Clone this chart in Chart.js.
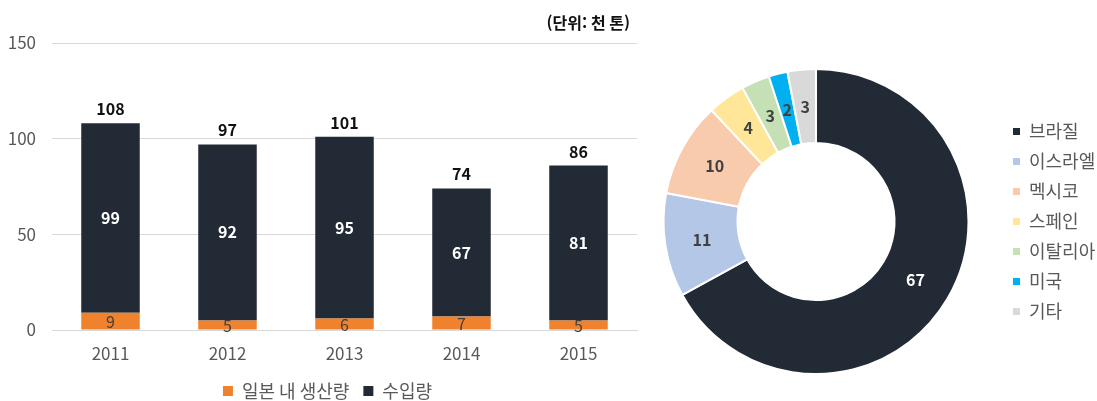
<!DOCTYPE html>
<html lang="ko">
<head>
<meta charset="utf-8">
<script src="https://cdn.jsdelivr.net/npm/chart.js@4.4.1/dist/chart.umd.min.js"></script>
<style>
  body { margin: 0; width: 1097px; height: 401px; overflow: hidden; background: #fff; position: relative; }
  #barWrap { position: absolute; left: 0; top: 0; width: 660px; height: 410px; }
  #pieWrap { position: absolute; left: 620px; top: 0; width: 477px; height: 401px; }
</style>
</head>
<body>
<div id="barWrap"><canvas id="barChart" width="660" height="410"></canvas></div>
<div id="pieWrap"><canvas id="pieChart" width="477" height="401"></canvas></div>
<script>
const FONT = "'Noto Sans CJK KR', 'Noto Sans', sans-serif";
Chart.defaults.font.family = FONT;
Chart.defaults.animation = false;

// 일본 내 생산량 / 수입량 (천 톤)
const years = ["2011", "2012", "2013", "2014", "2015"];
const domestic = [9, 5, 6, 7, 5];
const imports = [99, 92, 95, 67, 81];

// 수입 국가별 비중 (%)
const origins = [
  { name: "브라질", value: 67, color: "#222A35" },
  { name: "이스라엘", value: 11, color: "#B4C7E7" },
  { name: "멕시코", value: 10, color: "#F8CBAD" },
  { name: "스페인", value: 4, color: "#FFE699" },
  { name: "이탈리아", value: 3, color: "#C5E0B4" },
  { name: "미국", value: 2, color: "#00B0F0" },
  { name: "기타", value: 3, color: "#D9D9D9" }
];

const barLabels = {
  id: "barLabels",
  afterLayout(chart) {
    // legend sits a little right of the plot centre in the original
    chart.legend.left += 9;
    chart.legend.right += 9;
  },
  afterDatasetsDraw(chart) {
    const { ctx, chartArea } = chart;
    const low = chart.getDatasetMeta(0).data;
    const high = chart.getDatasetMeta(1).data;
    ctx.save();
    ctx.textAlign = "center";
    ctx.textBaseline = "middle";
    low.forEach((bar, i) => {
      ctx.font = `16px ${FONT}`;
      ctx.fillStyle = "#404040";
      ctx.fillText(domestic[i], bar.x, (bar.y + bar.base) / 2 + 1);

      const top = high[i];
      ctx.font = `bold 16px ${FONT}`;
      ctx.fillStyle = "#ffffff";
      ctx.fillText(imports[i], top.x, (top.y + top.base) / 2);

      ctx.fillStyle = "#111111";
      ctx.fillText(domestic[i] + imports[i], top.x, top.y - 14);
    });
    ctx.textAlign = "right";
    ctx.font = `bold 16px ${FONT}`;
    ctx.fillStyle = "#111111";
    ctx.fillText("(단위: 천 톤)", chartArea.right - 7, 23);
    ctx.restore();
  }
};

new Chart(document.getElementById("barChart").getContext("2d"), {
  type: "bar",
  data: {
    labels: years,
    datasets: [
      { label: "일본 내 생산량", data: domestic, backgroundColor: "#F0822E", borderWidth: 0 },
      { label: "수입량", data: imports, backgroundColor: "#222A35", borderWidth: 0 }
    ]
  },
  options: {
    responsive: false,
    layout: { padding: { left: 0, right: 23, top: 43, bottom: 0 } },
    datasets: { bar: { categoryPercentage: 1, barPercentage: 0.5 } },
    scales: {
      x: {
        stacked: true,
        grid: { display: false, drawTicks: false },
        border: { color: "#D9D9D9" },
        ticks: { color: "#595959", font: { size: 17 }, padding: 13 },
        afterFit(scale) { scale.height = 38; }
      },
      y: {
        stacked: true,
        min: 0, max: 150,
        grid: { color: "#D9D9D9", drawTicks: false },
        border: { display: false },
        ticks: { stepSize: 50, color: "#595959", font: { size: 17 }, padding: 16 },
        afterFit(scale) { scale.width = 52; }
      }
    },
    plugins: {
      legend: {
        position: "bottom",
        labels: { boxWidth: 10, boxHeight: 10, padding: 14, color: "#595959", font: { size: 18 } }
      },
      tooltip: { enabled: false }
    }
  },
  plugins: [barLabels]
});

const pieLabels = {
  id: "pieLabels",
  afterDatasetsDraw(chart) {
    const { ctx } = chart;
    ctx.save();
    ctx.textAlign = "center";
    ctx.textBaseline = "middle";
    ctx.font = `bold 16px ${FONT}`;
    chart.getDatasetMeta(0).data.forEach((arc, i) => {
      const p = arc.getCenterPoint();
      ctx.fillStyle = i === 0 ? "#ffffff" : "#404040";
      ctx.fillText(origins[i].value, p.x, p.y);
    });
    ctx.restore();
  }
};

const baseLabels = Chart.overrides.doughnut.plugins.legend.labels.generateLabels;

new Chart(document.getElementById("pieChart").getContext("2d"), {
  type: "doughnut",
  data: {
    labels: origins.map(o => o.name),
    datasets: [{
      data: origins.map(o => o.value),
      backgroundColor: origins.map(o => o.color),
      borderColor: "#ffffff",
      borderWidth: 2
    }]
  },
  options: {
    responsive: false,
    cutout: "51.5%",
    layout: { padding: { left: 11, right: 0, top: 68, bottom: 26 } },
    plugins: {
      legend: {
        position: "right",
        maxWidth: 96,
        labels: {
          boxWidth: 7, boxHeight: 7, padding: 12, color: "#595959", font: { size: 18 },
          generateLabels: chart => baseLabels(chart).map(l => ({ ...l, lineWidth: 0 }))
        }
      },
      tooltip: { enabled: false }
    }
  },
  plugins: [pieLabels]
});
</script>
</body>
</html>
